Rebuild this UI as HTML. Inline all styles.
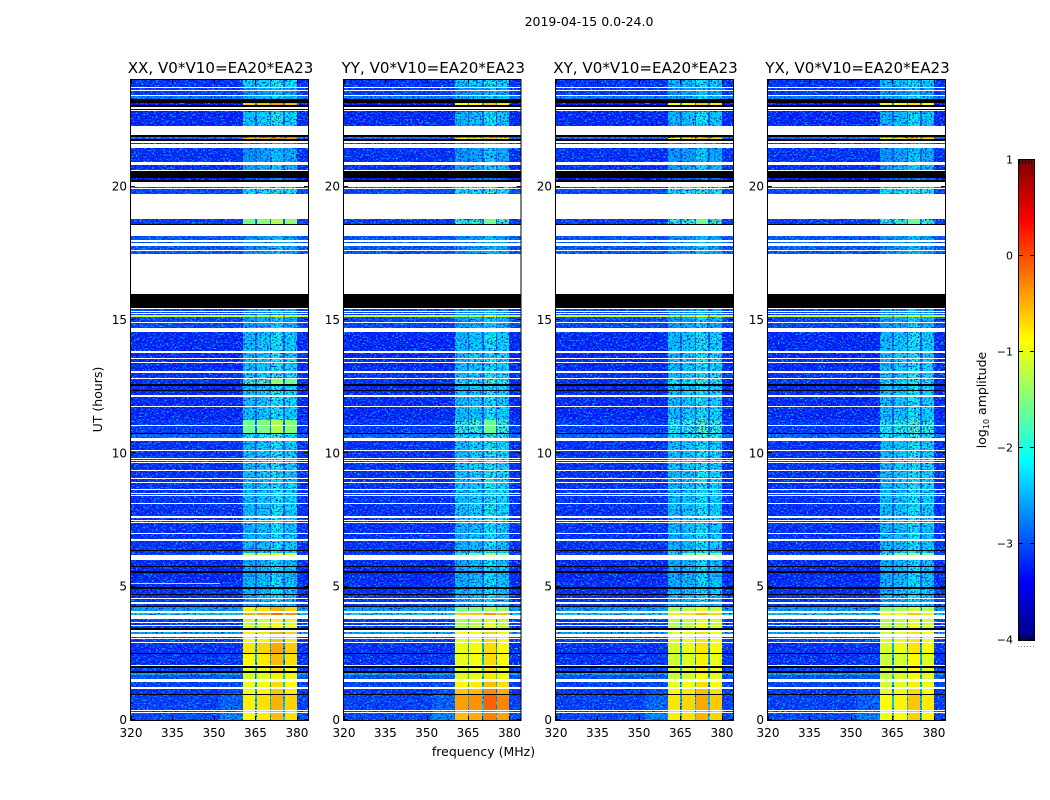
<!DOCTYPE html>
<html lang="en">
<head>
<meta charset="utf-8">
<title>2019-04-15 spectrogram</title>
<style>
html,body{margin:0;padding:0;background:#fff;}
svg{display:block;}
text{font-family:"DejaVu Sans","Liberation Sans",sans-serif;fill:#000;}
</style>
</head>
<body>
<svg id="figure" xmlns="http://www.w3.org/2000/svg" width="1050" height="800" viewBox="0 0 1050 800">
  <defs>
    <filter id="grain" x="0" y="0" width="100%" height="100%" color-interpolation-filters="sRGB">
      <feTurbulence type="fractalNoise" baseFrequency="0.55 0.62" numOctaves="2" seed="7" result="n"/>
      <feColorMatrix in="n" type="matrix" values="0 0 0 0 0  0 0 0 0 0.75  0 0 0 0 1  5 0 0 0 -2.55" result="light"/>
      <feColorMatrix in="n" type="matrix" values="0 0 0 0 0  0 0 0 0 0.05  0 0 0 0 0.82  0 5 0 0 -2.55" result="dark"/>
      <feMerge><feMergeNode in="SourceGraphic"/><feMergeNode in="light"/><feMergeNode in="dark"/></feMerge>
    </filter>
  </defs>
  <text x="589" y="26" font-size="12.5" text-anchor="middle">2019-04-15 0.0-24.0</text>
  <text x="483.5" y="756" font-size="12.5" text-anchor="middle">frequency (MHz)</text>
  <text x="0" y="0" font-size="12.5" text-anchor="middle" transform="translate(102,399.5) rotate(-90)">UT (hours)</text>
  <text x="0" y="0" font-size="12.5" text-anchor="middle" transform="translate(986,400) rotate(-90)">log<tspan font-size="8" dy="3">10</tspan><tspan dy="-3"> amplitude</tspan></text>
  <g id="panels"></g>
  <g id="colorbar"></g>
</svg>
<script>
// ---------- chart data ----------
const polarisations = ["XX", "YY", "XY", "YX"];
const baselineLabel = "V0*V10=EA20*EA23";
const freqTicks = [320, 335, 350, 365, 380];
const hourTicks = [0, 5, 10, 15, 20];
const colorbarTicks = [1, 0, -1, -2, -3, -4];

// frequency column edges (MHz): off-band, near-band, sub-band / notch sequence, upper off-band
const offBandLowEdges = [320, 352, 360.4];
const subBandEdges = [[360.4, 364.9], [365.5, 370.2], [370.7, 375], [375.6, 380]];
const notchEdges = [[364.9, 365.5], [370.2, 370.7], [375, 375.6]];
const offBandHighEdges = [380, 384];
const subBandOffset = [-0.05, 0.02, 0.25, 0.08];
const weakInBandLift = 0.12;

// time epochs (hours, top to bottom) and log10 amplitudes per epoch
const epochEdges = [24, 23.7, 23.4, 23.14, 23.06, 22.8, 22.24, 21.84, 21.79, 21.45, 20.81, 20.59, 19.99, 19.73, 18.79, 18.56, 17.48, 15.19, 15.11, 14.55, 13.09, 12.83, 12.6, 11.25, 10.76, 10.58, 7.46, 6.26, 6.15, 5.18, 4.5, 4.24, 4.05, 3.9, 3.45, 3.19, 2.93, 2.48, 2.03, 1.8, 1.69, 1.46, 1.2, 0.98, 0.3, 0];
const offBandLevel = [-3.2, -3.15, -2.75, -3.4, -3.3, -3.25, -2.7, -2.95, -3.2, -3.2, -3.2, -3.4, -3.05, -3.1, -3.15, -2.95, -3.1, -1.1, -3.05, -3.25, -3.2, -3.2, -3.25, -3.15, -2.85, -3.2, -3.2, -3.1, -3.25, -3.2, -3.15, -2.55, -2.3, -3.15, -2.5, -3.1, -3.2, -3.2, -3.1, -2.45, -3.0, -3.1, -3.2, -3.1, -3.05];
const nearBandLevel = [-3.2, -3.15, -2.75, -3.4, -3.3, -3.25, -2.7, -2.95, -3.2, -3.2, -3.2, -3.4, -3.05, -3.1, -3.15, -2.95, -3.1, -1.1, -3.05, -3.25, -3.2, -3.2, -3.25, -3.15, -2.85, -3.2, -3.2, -3.1, -3.25, -3.2, -3.15, -2.55, -2.3, -3.15, -2.5, -3.1, -3.2, -3.15, -3.05, -2.45, -2.95, -3.05, -3.05, -2.9, -2.7];
const inBandXX = [-2.3, -2.7, -2.5, -0.6, -2.9, -2.35, -2.5, -0.5, -2.85, -2.65, -2.55, -3.1, -2.2, -2.6, -1.5, -2.7, -2.7, -1.3, -2.6, -2.4, -2.35, -1.75, -2.4, -1.65, -2.2, -2.4, -2.45, -1.2, -2.5, -2.45, -2.55, -0.75, -0.4, -1.1, -0.75, -0.85, -0.7, -0.8, -0.95, -1.05, -1.05, -0.95, -0.85, -0.75, -0.8];
const inBandYY = [-2.4, -2.7, -2.5, -0.85, -2.9, -2.45, -2.5, -0.8, -2.85, -2.65, -2.55, -3.1, -2.2, -2.6, -1.95, -2.7, -2.7, -1.3, -2.6, -2.4, -2.35, -2.15, -2.4, -1.95, -2.2, -2.35, -2.45, -1.7, -2.5, -2.45, -2.55, -1.5, -0.6, -1.25, -0.9, -0.95, -0.95, -0.95, -1.0, -1.05, -1.0, -0.8, -0.55, -0.35, -0.5];
const inBandXY = [-2.45, -2.7, -2.5, -0.85, -2.9, -2.45, -2.5, -0.8, -2.85, -2.65, -2.55, -3.1, -2.2, -2.6, -1.95, -2.7, -2.7, -1.3, -2.6, -2.4, -2.35, -2.15, -2.4, -2.05, -2.2, -2.4, -2.45, -1.7, -2.5, -2.45, -2.55, -1.25, -0.75, -1.2, -0.95, -1.0, -1.0, -1.05, -1.05, -1.1, -1.1, -0.95, -0.8, -0.7, -0.75];
const inBandYX = [-2.45, -2.7, -2.5, -0.95, -2.9, -2.45, -2.5, -0.8, -2.85, -2.65, -2.55, -3.1, -2.2, -2.6, -1.95, -2.7, -2.7, -1.3, -2.6, -2.4, -2.35, -2.25, -2.4, -2.05, -2.2, -2.4, -2.45, -1.7, -2.5, -2.45, -2.55, -1.35, -0.85, -1.2, -1.0, -1.0, -1.0, -1.1, -1.1, -1.1, -1.1, -1.05, -0.95, -0.85, -0.9];
const inBandByPol = [inBandXX, inBandYY, inBandXY, inBandYX];

// flagged (no data, white) and below-scale (black) time ranges: [start, end] in hours
const flaggedStart = [23.74, 23.63, 23.44, 22.99, 22.88, 22.26, 21.71, 21.6, 20.93, 20.63, 20.16, 19.95, 19.73, 18.56, 18.0, 17.89, 17.64, 17.49, 15.45, 15.34, 15.26, 14.93, 14.7, 13.82, 13.56, 13.44, 13.09, 12.84, 12.17, 11.79, 11.08, 10.58, 10.14, 9.81, 9.75, 9.68, 9.38, 9.06, 8.94, 8.68, 8.53, 8.44, 8.14, 7.65, 7.5, 7.44, 7.03, 6.77, 6.17, 4.59, 4.41, 4.07, 3.92, 3.69, 3.58, 3.38, 3.21, 3.09, 2.94, 2.08, 1.52, 1.48, 1.22, 0.36, 0.3];
const flaggedEnd = [23.7, 23.57, 23.4, 22.91, 22.82, 21.94, 21.64, 21.45, 20.81, 20.59, 19.99, 19.91, 18.79, 18.15, 17.94, 17.79, 17.61, 15.98, 15.41, 15.3, 15.23, 14.89, 14.55, 13.78, 13.52, 13.41, 13.01, 12.81, 12.13, 11.76, 11.04, 10.46, 10.11, 9.77, 9.71, 9.64, 9.34, 9.02, 8.91, 8.64, 8.49, 8.4, 8.1, 7.58, 7.46, 7.41, 6.99, 6.71, 6.0, 4.56, 4.35, 4.03, 3.79, 3.64, 3.54, 3.3, 3.13, 3.06, 2.91, 2.04, 1.48, 1.44, 1.16, 0.32, 0.26];
const belowScaleStart = [23.29, 23.06, 22.91, 21.94, 21.79, 20.59, 20.25, 18.6, 15.98, 12.6, 12.36, 10.78, 6.39, 5.79, 5.57, 4.97, 4.74, 4.26, 3.45, 2.53, 2.04, 1.82, 0.96];
const belowScaleEnd = [23.14, 22.99, 22.88, 21.88, 21.71, 20.31, 20.16, 18.56, 15.45, 12.54, 12.32, 10.74, 6.36, 5.76, 5.53, 4.91, 4.71, 4.22, 3.38, 2.49, 1.95, 1.78, 0.92];

// XX-only interference line
const rfiHour = [5.13, 5.09];
const rfiFreq = [320, 352];
const rfiLevel = -1.3;

// ---------- layout and scales ----------
const panelLeft = [131, 344, 556, 768];
const panelWidths = [177, 176.5, 177, 177];
const plotTop = 80, plotBottom = 720;
const freqMin = 320, freqMax = 384, hourMin = 0, hourMax = 24;
const cbarLeft = 1019, cbarWidth = 15, cbarTop = 160, cbarBottom = 640;
const levelMin = -4, levelMax = 1;

const xScale = (p, f) => panelLeft[p] + (f - freqMin) / (freqMax - freqMin) * panelWidths[p];
const yScale = h => plotBottom - (h - hourMin) / (hourMax - hourMin) * (plotBottom - plotTop);
const cbarY = v => cbarBottom - (v - levelMin) / (levelMax - levelMin) * (cbarBottom - cbarTop);

function clamp01(x) { return Math.max(0, Math.min(1, x)); }
function jet(value) {
  const t = clamp01((value - levelMin) / (levelMax - levelMin));
  const r = clamp01(Math.min(4 * t - 1.5, -4 * t + 4.5));
  const g = clamp01(Math.min(4 * t - 0.5, -4 * t + 3.5));
  const b = clamp01(Math.min(4 * t + 0.5, -4 * t + 2.5));
  return "rgb(" + Math.round(r * 255) + "," + Math.round(g * 255) + "," + Math.round(b * 255) + ")";
}

const NS = "http://www.w3.org/2000/svg";
function mk(parent, tag, props) {
  const el = document.createElementNS(NS, tag);
  for (const k in props) el.setAttribute(k, props[k]);
  parent.appendChild(el);
  return el;
}
function cell(parent, x0, x1, y0, y1, fill) {
  const left = Math.round(x0), right = Math.round(x1);
  const top = Math.round(y0), bottom = Math.max(top + 1, Math.round(y1));
  const el = mk(parent, "rect", { x: left, y: top, width: right - left, height: bottom - top, fill: fill, "shape-rendering": "crispEdges" });
  
  
  return el;
}

// ---------- draw panels ----------
const panelsRoot = document.getElementById("panels");
polarisations.forEach(function (pol, p) {
  const panel = mk(panelsRoot, "g", {});
  
  

  const grainy = mk(panel, "g", { filter: "url(#grain)" });
  
  
  const smooth = mk(panel, "g", {});
  
  

  offBandLevel.forEach(function (off, e) {
    const y0 = yScale(epochEdges[e]);
    const y1 = yScale(epochEdges[e + 1]);
    const target = v => (v < -1.6 ? grainy : smooth);
    cell(target(off), xScale(p, offBandLowEdges[0]), xScale(p, offBandLowEdges[1]), y0, y1, jet(off));
    const near = nearBandLevel[e];
    cell(target(near), xScale(p, offBandLowEdges[1]), xScale(p, offBandLowEdges[2]), y0, y1, jet(near));
    cell(target(off), xScale(p, offBandHighEdges[0]), xScale(p, offBandHighEdges[1]), y0, y1, jet(off));
    subBandEdges.forEach(function (edge, s) {
      const base = inBandByPol[p][e];
      const level = base + subBandOffset[s] + (base < -1.6 ? weakInBandLift : 0);
      cell(target(level), xScale(p, edge[0]), xScale(p, edge[1]), y0, y1, jet(level));
    });
    notchEdges.forEach(function (edge) {
      const level = off + (inBandByPol[p][e] > -1.5 ? 0.75 : 0.3);
      cell(target(level), xScale(p, edge[0]), xScale(p, edge[1]), y0, y1, jet(level));
    });
  });

  if (pol === "XX") {
    cell(smooth, xScale(p, rfiFreq[0]), xScale(p, rfiFreq[1]), yScale(rfiHour[0]), yScale(rfiHour[1]), jet(rfiLevel));
  }

  flaggedStart.forEach(function (start, i) {
    const el = cell(panel, xScale(p, freqMin), xScale(p, freqMax), yScale(start), yScale(flaggedEnd[i]), "#fff");
    
  });
  belowScaleStart.forEach(function (start, i) {
    const el = cell(panel, xScale(p, freqMin), xScale(p, freqMax), yScale(start), yScale(belowScaleEnd[i]), "#000");
    
  });

  // frame
  const frame = mk(panel, "rect", { x: panelLeft[p] - 0.5, y: plotTop - 0.5, width: panelWidths[p] + 1, height: plotBottom - plotTop + 1, fill: "none", stroke: "#000", "stroke-width": 1 });
  
  

  // frequency ticks
  freqTicks.forEach(function (f) {
    const x = Math.round(xScale(p, f)) + 0.5;
    const b = mk(panel, "line", { x1: x, x2: x, y1: plotBottom, y2: plotBottom - 4, stroke: "#000", "stroke-width": 1 });
    
    
    const t = mk(panel, "line", { x1: x, x2: x, y1: plotTop, y2: plotTop + 4, stroke: "#000", "stroke-width": 1 });
    
    
    const label = mk(panel, "text", { x: xScale(p, f), y: 737, "font-size": 12, "text-anchor": "middle" });
    label.textContent = String(f);
    
    
  });

  // hour ticks
  hourTicks.forEach(function (h) {
    const y = Math.round(yScale(h)) - 0.5;
    const l = mk(panel, "line", { x1: panelLeft[p], x2: panelLeft[p] + 4, y1: y, y2: y, stroke: "#000", "stroke-width": 1 });
    
    
    const r = mk(panel, "line", { x1: panelLeft[p] + panelWidths[p], x2: panelLeft[p] + panelWidths[p] - 4, y1: y, y2: y, stroke: "#000", "stroke-width": 1 });
    
    
    const label = mk(panel, "text", { x: panelLeft[p] - 4, y: yScale(h) + 4, "font-size": 12, "text-anchor": "end" });
    label.textContent = String(h);
    
    
  });

  // panel title
  const title = mk(panel, "text", { x: panelLeft[p] + panelWidths[p] / 2 + 1, y: 73, "font-size": 15.1, "text-anchor": "middle" });
  title.textContent = pol + ", " + baselineLabel;
  
  
});

// ---------- colorbar ----------
const cbarRoot = document.getElementById("colorbar");
const cbarSteps = 240;
for (let i = 0; i < cbarSteps; i++) {
  const v0 = levelMin + (levelMax - levelMin) * i / cbarSteps;
  const v1 = levelMin + (levelMax - levelMin) * (i + 1) / cbarSteps;
  const swatch = mk(cbarRoot, "rect", { x: cbarLeft, width: cbarWidth, y: cbarY(v1), height: cbarY(v0) - cbarY(v1) + 0.5, fill: jet((v0 + v1) / 2), "shape-rendering": "crispEdges" });
  
  
}
const cbarFrame = mk(cbarRoot, "rect", { x: cbarLeft - 0.5, y: cbarTop - 0.5, width: cbarWidth + 1, height: cbarBottom - cbarTop + 1, fill: "none", stroke: "#000", "stroke-width": 1 });


colorbarTicks.forEach(function (v) {
  const y = Math.round(cbarY(v)) - 0.5;
  const a = mk(cbarRoot, "line", { x1: cbarLeft, x2: cbarLeft + 4, y1: y, y2: y, stroke: "#000" });
  
  
  const b = mk(cbarRoot, "line", { x1: cbarLeft + cbarWidth, x2: cbarLeft + cbarWidth - 4, y1: y, y2: y, stroke: "#000" });
  
  
  const label = mk(cbarRoot, "text", { x: 1013, y: cbarY(v) + 3.5, "font-size": 11, "text-anchor": "end" });
  label.textContent = String(v).replace("-", "\u2212");
  
  
});
for (let i = 0; i < 6; i++) {
  const x = cbarLeft + i * 3 + 0.5;
  const top = mk(cbarRoot, "line", { x1: x, x2: x, y1: cbarTop, y2: cbarTop + 4, stroke: "#000" });
  
  
  const bottom = mk(cbarRoot, "line", { x1: x, x2: x, y1: cbarBottom, y2: cbarBottom - 4, stroke: "#000" });
  
  
  const dot = mk(cbarRoot, "rect", { x: cbarLeft - 1 + i * 3, y: 646, width: 1, height: 1, fill: "#888" });
  
  
}
</script>
</body>
</html>
